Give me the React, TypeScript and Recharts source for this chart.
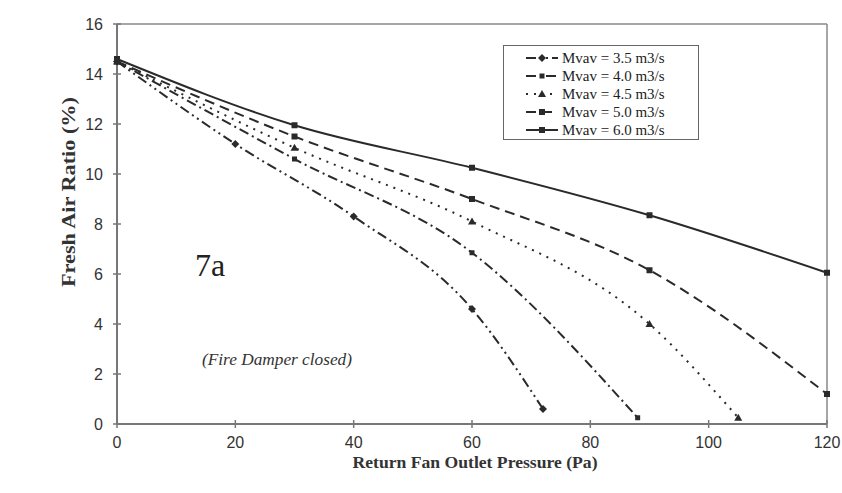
import React from "react";
import {
  LineChart,
  Line,
  XAxis,
  YAxis,
  Legend,
  ReferenceLine,
} from "recharts";

// Return fan outlet pressure (Pa) vs. fresh air ratio (%) for each VAV flow
const pressure35 = [0, 20, 40, 60, 72];
const ratio35 = [14.5, 11.2, 8.3, 4.6, 0.6];

const pressure40 = [0, 30, 60, 88];
const ratio40 = [14.5, 10.6, 6.85, 0.25];

const pressure45 = [0, 30, 60, 90, 105];
const ratio45 = [14.5, 11.05, 8.1, 4.0, 0.25];

const pressure50 = [0, 30, 60, 90, 120];
const ratio50 = [14.5, 11.5, 9.0, 6.15, 1.2];

const pressure60 = [0, 30, 60, 90, 120];
const ratio60 = [14.6, 11.95, 10.25, 8.35, 6.05];

const xTicks = [0, 20, 40, 60, 80, 100, 120];
const yTicks = [0, 2, 4, 6, 8, 10, 12, 14, 16];

type Shape = "diamond" | "smallSquare" | "triangle" | "square";

interface SeriesDef {
  name: string;
  data: { x: number; y: number }[];
  dash?: string;
  shape: Shape;
}

const toPoints = (xs: number[], ys: number[]) =>
  xs.map((x, i) => ({ x, y: ys[i] }));

const SERIES: SeriesDef[] = [
  { name: "Mvav = 3.5 m3/s", data: toPoints(pressure35, ratio35), dash: "10 4 2 4 2 4", shape: "diamond" },
  { name: "Mvav = 4.0 m3/s", data: toPoints(pressure40, ratio40), dash: "10 4 2 4", shape: "smallSquare" },
  { name: "Mvav = 4.5 m3/s", data: toPoints(pressure45, ratio45), dash: "2 6", shape: "triangle" },
  { name: "Mvav = 5.0 m3/s", data: toPoints(pressure50, ratio50), dash: "10 6", shape: "square" },
  { name: "Mvav = 6.0 m3/s", data: toPoints(pressure60, ratio60), shape: "square" },
];

const INK = "#2a2a2a";
const AXIS = "#777";
const SERIF = "'Liberation Serif', 'Times New Roman', serif";
const SANS = "'Liberation Sans', Arial, sans-serif";

const marker = (shape: Shape, cx: number, cy: number, key?: React.Key) => {
  switch (shape) {
    case "diamond":
      return (
        <polygon key={key} points={`${cx},${cy - 4} ${cx + 4},${cy} ${cx},${cy + 4} ${cx - 4},${cy}`} fill={INK} />
      );
    case "triangle":
      return (
        <polygon key={key} points={`${cx},${cy - 4} ${cx + 4},${cy + 3} ${cx - 4},${cy + 3}`} fill={INK} />
      );
    case "smallSquare":
      return <rect key={key} x={cx - 2.5} y={cy - 2.5} width={5} height={5} fill={INK} />;
    default:
      return <rect key={key} x={cx - 3} y={cy - 3} width={6} height={6} fill={INK} />;
  }
};

const makeDot = (shape: Shape) => (props: any) =>
  marker(shape, props.cx, props.cy, `dot-${props.index}`);

// ticks that cross the axis line, like the original plot
const TICK_SIZE = 4;
const X_TICK_MARGIN = 9;
const Y_TICK_MARGIN = 10;

const XTick = (props: any) => {
  const { x, y, payload } = props;
  const axisY = y - TICK_SIZE - X_TICK_MARGIN;
  return (
    <g>
      <line x1={x} x2={x} y1={axisY - 4} y2={axisY + 4} stroke={AXIS} strokeWidth={1.5} />
      <text x={x} y={y} dy="0.71em" textAnchor="middle" fontFamily={SANS} fontSize={16} fill="#333">
        {payload.value}
      </text>
    </g>
  );
};

const YTick = (props: any) => {
  const { x, y, payload } = props;
  const axisX = x + TICK_SIZE + Y_TICK_MARGIN;
  return (
    <g>
      <line x1={axisX - 4} x2={axisX + 4} y1={y} y2={y} stroke={AXIS} strokeWidth={1.5} />
      <text x={x} y={y} dy="0.355em" textAnchor="end" fontFamily={SANS} fontSize={16} fill="#333">
        {payload.value}
      </text>
    </g>
  );
};

const LegendBox = () => (
  <div
    style={{
      width: 196,
      height: 95,
      border: "1.5px solid #666",
      background: "#fff",
      boxSizing: "border-box",
    }}
  >
    <svg width={194} height={92}>
      {SERIES.map((s, i) => {
        const cy = 12 + i * 18;
        return (
          <g key={s.name}>
            <line x1={22} x2={54} y1={cy} y2={cy} stroke={INK} strokeWidth={2} strokeDasharray={s.dash} />
            {marker(s.shape, 38, cy)}
            <text x={58} y={cy} dy="0.35em" fontFamily={SERIF} fontSize={15} fill="#222">
              {s.name}
            </text>
          </g>
        );
      })}
    </svg>
  </div>
);

const App: React.FC = () => {
  return (
    <div style={{ position: "absolute", left: 0, top: 0, background: "#fff" }}>
      <LineChart
        width={842}
        height={493}
        margin={{ top: 24, right: 15, bottom: 39, left: 57 }}
      >
        <XAxis
          type="number"
          dataKey="x"
          domain={[0, 120]}
          ticks={xTicks}
          height={30}
          tickSize={TICK_SIZE}
          tickMargin={X_TICK_MARGIN}
          tickLine={false}
          tick={<XTick />}
          axisLine={{ stroke: AXIS, strokeWidth: 2 }}
          allowDuplicatedCategory={false}
          label={{
            content: (p: any) => (
              <text
                x={p.viewBox.x + p.viewBox.width / 2 + 3}
                y={p.viewBox.y + 44}
                textAnchor="middle"
                fontFamily={SERIF}
                fontWeight="bold"
                fontSize={17.5}
                textLength={245}
                lengthAdjust="spacingAndGlyphs"
                fill="#333"
              >
                Return Fan Outlet Pressure (Pa)
              </text>
            ),
          }}
        />
        <YAxis
          type="number"
          domain={[0, 16]}
          ticks={yTicks}
          width={60}
          tickSize={TICK_SIZE}
          tickMargin={Y_TICK_MARGIN}
          tickLine={false}
          tick={<YTick />}
          axisLine={{ stroke: AXIS, strokeWidth: 2 }}
          label={{
            content: (p: any) => {
              const cx = p.viewBox.x + 12;
              const cy = p.viewBox.y + 168;
              return (
                <text
                  x={cx}
                  y={cy}
                  transform={`rotate(-90, ${cx}, ${cy})`}
                  textAnchor="middle"
                  dy="0.35em"
                  fontFamily={SERIF}
                  fontWeight="bold"
                  fontSize={18.5}
                  textLength={190}
                  lengthAdjust="spacingAndGlyphs"
                  fill="#333"
                >
                  Fresh Air Ratio (%)
                </text>
              );
            },
          }}
        />
        {/* plot frame */}
        <ReferenceLine y={16} stroke="#888" strokeWidth={1.5} />
        <ReferenceLine x={120} stroke="#888" strokeWidth={1.5} />
        {SERIES.map((s) => (
          <Line
            key={s.name}
            name={s.name}
            data={s.data}
            dataKey="y"
            type="monotone"
            stroke={INK}
            strokeWidth={2}
            strokeDasharray={s.dash}
            dot={makeDot(s.shape)}
            activeDot={false}
            isAnimationActive={false}
          />
        ))}
        {/* horizontal + middle + center keeps the legend from reserving plot space */}
        <Legend
          layout="horizontal"
          verticalAlign="middle"
          align="center"
          content={<LegendBox />}
          wrapperStyle={{ position: "absolute", left: 503, top: 45, width: 196 }}
        />
        <text x={195} y={276} fontFamily={SERIF} fontSize={32} fill="#222">
          7a
        </text>
        <text
          x={202}
          y={365}
          fontFamily={SERIF}
          fontStyle="italic"
          fontSize={16}
          textLength={150}
          lengthAdjust="spacingAndGlyphs"
          fill="#333"
        >
          (Fire Damper closed)
        </text>
      </LineChart>
    </div>
  );
};

export default App;
